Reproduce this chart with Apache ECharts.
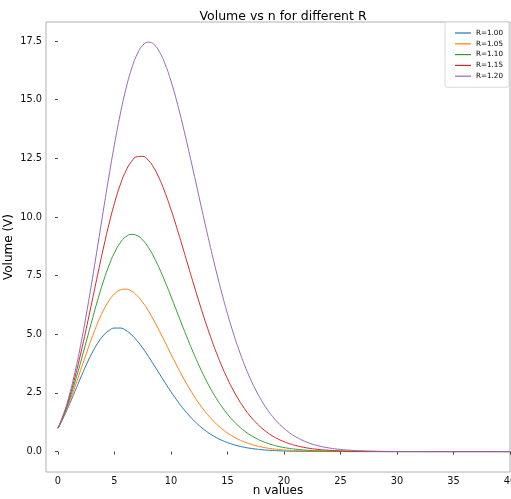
<!DOCTYPE html>
<html>
<head>
<meta charset="utf-8">
<script src="https://cdn.jsdelivr.net/npm/echarts@6/dist/echarts.min.js"></script>
<style>html,body{margin:0;padding:0;background:#fff}#c{width:511px;height:499px}</style>
</head>
<body>
<div id="c"></div>
<script>
const nValues = [0,0.5,1,1.5,2,2.5,3,3.5,4,4.5,5,5.5,6,6.5,7,7.5,8,8.5,9,9.5,10,10.5,11,11.5,12,12.5,13,13.5,14,14.5,15,15.5,16,16.5,17,17.5,18,18.5,19,19.5,20,20.5,
  21,22,23,24,25,26,27,28,29,30,31,32,33,34,35,36,37,38,39,40];
const seriesNames = ["R=1.00","R=1.05","R=1.10","R=1.15","R=1.20"];
const vR100 = [1,1.4688,2,2.5675,3.1416,3.6915,4.1888,4.6092,4.9348,5.1543,5.2638,5.2656,5.1677,4.9824,4.7248,4.4113,4.0587,3.6830,3.2985,2.9176,2.5502,2.2039,1.8841,1.5941,1.3353,1.1078,0.9106,0.7419,0.5993,0.4800,0.3814,0.3007,0.2353,0.1828,0.1410,0.1080,0.0821,0.0621,0.0466,0.0348,0.0258,0.0190,
  0.0139,0.0074,0.0038,0.0019,0.0010,0.0005,0.0002,0.0001,0.00005,0.00002,0.00001,0,0,0,0,0,0,0,0,0];
const vR105 = [1,1.5051,2.1,2.7625,3.4636,4.1704,4.8490,5.4675,5.9983,6.4199,6.7181,6.8863,6.9252,6.8418,6.6482,6.3604,5.9966,5.5758,5.1171,4.6379,4.1539,3.6786,3.2225,2.7937,2.3979,2.0386,1.7171,1.4335,1.1865,0.9739,0.7930,0.6407,0.5137,0.4089,0.3231,0.2536,0.1977,0.1531,0.1178,0.0901,0.0685,0.0517,
  0.0389,0.0216,0.0117,0.0062,0.0032,0.0017,0.0008,0.0004,0.0002,0.0001,0.00005,0.00002,0.00001,0,0,0,0,0,0,0];
const vR110 = [1,1.5405,2.2,2.9621,3.8013,4.6848,5.5753,6.4343,7.2250,7.9148,8.4774,8.8942,9.1549,9.2575,9.2072,9.0159,8.7002,8.2802,7.7777,7.2153,6.6145,5.9954,5.3756,4.7700,4.1906,3.6465,3.1437,2.6863,2.2757,1.9119,1.5934,1.3176,1.0813,0.8809,0.7126,0.5724,0.4567,0.3620,0.2851,0.2232,0.1736,0.1343,
  0.1032,0.0600,0.0341,0.0190,0.0104,0.0056,0.0029,0.0015,0.0008,0.0004,0.0002,0.0001,0.00005,0.00002,0.00001,0,0,0,0,0];
const vR115 = [1,1.5751,2.3,3.1664,4.1548,5.2354,6.3706,7.5175,8.6310,9.6675,10.5874,11.3576,11.9532,12.3588,12.5681,12.5834,12.4157,12.0819,11.6037,11.0066,10.3168,9.5613,8.7656,7.9530,7.1440,6.3560,5.6029,4.8952,4.2402,3.6424,3.1038,2.6243,2.2021,1.8344,1.5171,1.2461,1.0166,0.8239,0.6635,0.5310,0.4224,0.3340,
  0.2625,0.1595,0.0948,0.0552,0.0315,0.0176,0.0097,0.0053,0.0028,0.0015,0.0008,0.0004,0.0002,0.0001,0.00005,0.00002,0.00001,0,0,0];
const vR120 = [1,1.6090,2.4,3.3751,4.5239,5.8232,7.2382,8.7250,10.2328,11.7082,13.0980,14.3530,15.4307,16.2974,16.9297,17.3151,17.4517,17.3477,17.0196,16.4909,15.7899,14.9484,13.9991,12.9744,11.9054,10.8200,9.7431,8.6955,7.6941,6.7515,5.8769,5.0758,4.3509,3.7022,3.1278,2.6243,2.1870,1.8106,1.4895,1.2177,0.9894,0.7992,
  0.6417,0.4069,0.2524,0.1534,0.0914,0.0533,0.0306,0.0173,0.0096,0.0052,0.0028,0.0015,0.0008,0.0004,0.0002,0.0001,0.00005,0.00002,0.00001,0.000005];
const xTicks = [0,5,10,15,20,25,30,35,40];
const yTicks = [0,2.5,5,7.5,10,12.5,15,17.5];

const colors = ['#1f77b4','#ff7f0e','#2ca02c','#d62728','#9467bd'];
const allValues = [vR100, vR105, vR110, vR115, vR120];

const chart = echarts.init(document.getElementById('c'), null, {renderer:'canvas'});
const font = 'DejaVu Sans';
chart.setOption({
  animation:false,
  backgroundColor:'#fff',
  color: colors,
  title:{text:'Volume vs n for different R', left:278, textAlign:'center', top:5,
    textStyle:{fontFamily:font, fontSize:12.5, fontWeight:'normal', color:'#000'}},
  grid:{left:46, right:1, top:22, bottom:27, containLabel:false, outerBoundsMode:'none',
    show:true, borderColor:'#b0b0b0', borderWidth:1, backgroundColor:'transparent'},
  legend:{
    orient:'vertical', right:2, top:22,
    data: seriesNames,
    icon:'rect', itemWidth:16, itemHeight:1.2, itemGap:2.8,
    backgroundColor:'#fff', borderColor:'#d8d8d8', borderWidth:1, borderRadius:2, padding:[7,6,7,10],
    textStyle:{fontFamily:font, fontSize:7.2, lineHeight:8, color:'#000'}
  },
  xAxis:{
    type:'value', min:-1.06, max:40,
    name:'n values', nameLocation:'middle', nameGap:13, nameMoveOverlap:false,
    nameTextStyle:{fontFamily:font, fontSize:12, color:'#000'},
    axisLine:{show:false},
    splitLine:{show:false},
    axisTick:{show:true, length:3, lineStyle:{color:'#444'}, customValues: xTicks},
    axisLabel:{fontFamily:font, fontSize:9.8, color:'#111', margin:4, customValues: xTicks,
      formatter: v => String(v)}
  },
  yAxis:{
    type:'value', min:-0.87, max:18.31,
    name:'Volume (V)', nameLocation:'middle', nameGap:31, nameMoveOverlap:false,
    nameTextStyle:{fontFamily:font, fontSize:12, color:'#000'},
    axisLine:{show:false},
    splitLine:{show:false},
    axisTick:{show:true, length:3, lineStyle:{color:'#444'}, customValues: yTicks},
    axisLabel:{fontFamily:font, fontSize:9.8, color:'#111', margin:4, customValues: yTicks,
      formatter: v => v.toFixed(1)}
  },
  series: seriesNames.map((name, i) => ({
    name, type:'line', showSymbol:false, smooth:0.5,
    lineStyle:{width:1, color:colors[i]},
    data: nValues.map((n, k) => [n, allValues[i][k]])
  }))
});
</script>
</body>
</html>
